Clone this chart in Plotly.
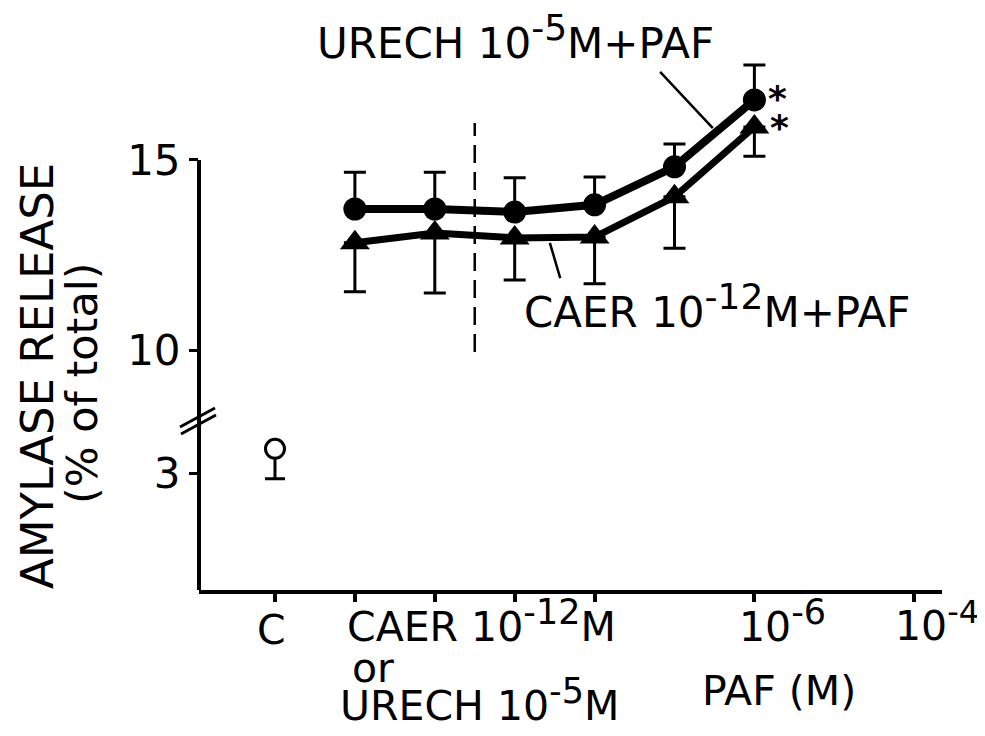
import plotly.graph_objects as go

# ---------------- data ----------------
x_slots = [1, 2, 3, 4, 5, 6]                 # CAER/URECH alone, then increasing PAF
urech_mean = [13.71, 13.71, 13.63, 13.82, 14.82, 16.58]
urech_sem = [0.97, 0.97, 0.90, 0.73, 0.60, 0.92]
caer_mean = [12.82, 13.08, 12.95, 12.97, 14.03, 15.87]
caer_sem = [1.29, 1.58, 1.11, 1.23, 1.35, 0.77]
control_x = [0]
control_mean = [3.62]
control_sem = [0.77]
x_tick_slots = [0, 1, 2, 3, 4, 6, 8]
upper_ticks = [10, 15]
lower_ticks = [3]

# ---------------- geometry (pixels of the 985x736 page) ----------------
PAGE_W, PAGE_H = 985, 736
OFF = 8                       # default body margin of the html page
W, H = PAGE_W - OFF, PAGE_H - OFF
L, R, T, B = 199, 942, 30, 590
BREAK_PX = 417
upper_range = [8.237, 18.42]
lower_range = [0, 4.436]
x_range = [-0.951, 8.348]
FONT = "DejaVu Sans"


def PX(x):
    return (x - L) / (R - L)


def PY(y):
    return (B - y) / (B - T)


lower_top = PY(BREAK_PX)

fig = go.Figure()

fig.add_trace(go.Scatter(
    x=x_slots, y=urech_mean, yaxis="y2", mode="lines+markers",
    line=dict(color="black", width=8),
    marker=dict(symbol="circle", size=23, color="black"),
    error_y=dict(type="data", symmetric=False, array=urech_sem,
                 arrayminus=[0] * len(urech_sem), color="black",
                 thickness=3, width=11),
    showlegend=False, name="URECH 10-5M + PAF"))

fig.add_trace(go.Scatter(
    x=x_slots, y=caer_mean, yaxis="y2", mode="lines+markers",
    line=dict(color="black", width=7),
    marker=dict(symbol="triangle-up", size=26, color="black"),
    error_y=dict(type="data", symmetric=False, array=[0] * len(caer_sem),
                 arrayminus=caer_sem, color="black", thickness=3, width=11),
    showlegend=False, name="CAER 10-12M + PAF"))

fig.add_trace(go.Scatter(
    x=control_x, y=control_mean, yaxis="y", mode="markers",
    marker=dict(symbol="circle", size=19, color="white",
                line=dict(color="black", width=3)),
    error_y=dict(type="data", symmetric=False, array=[0],
                 arrayminus=control_sem, color="black", thickness=3, width=10),
    showlegend=False, name="Control"))

tickfont = dict(family=FONT, size=42, color="black")
fig.update_layout(
    width=W, height=H,
    margin=dict(l=L - OFF, r=PAGE_W - R, t=T - OFF, b=PAGE_H - B, pad=0),
    paper_bgcolor="white", plot_bgcolor="white",
    xaxis=dict(domain=[0, 1], range=x_range, showline=True, linewidth=4,
               linecolor="black", ticks="outside", tickvals=x_tick_slots,
               ticklen=8, tickwidth=4, tickcolor="black",
               showticklabels=False, showgrid=False, zeroline=False,
               anchor="y", automargin=False),
    yaxis=dict(domain=[0, lower_top], range=lower_range, showline=False,
               ticks="outside", tickvals=lower_ticks, ticklen=9, tickwidth=3,
               tickcolor="black", tickfont=tickfont, showgrid=False,
               zeroline=False, anchor="x", automargin=False),
    yaxis2=dict(domain=[lower_top, 1], range=upper_range, showline=False,
                ticks="outside", tickvals=upper_ticks, ticklen=9, tickwidth=3,
                tickcolor="black", tickfont=tickfont, showgrid=False,
                zeroline=False, anchor="x", automargin=False),
)

shapes = []
# y axis line (lower and upper parts)
shapes.append(dict(type="line", xref="paper", yref="y domain", x0=0, x1=0,
                   y0=0, y1=1, line=dict(color="black", width=4)))
shapes.append(dict(type="line", xref="paper", yref="y2", x0=0, x1=0,
                   y0=upper_range[0], y1=upper_ticks[-1],
                   line=dict(color="black", width=4)))
# axis break marks
for (x0, y0, x1, y1) in [(180, 427, 215, 408), (181, 434, 216, 415)]:
    shapes.append(dict(type="line", xref="paper", yref="paper",
                       x0=PX(x0), y0=PY(y0), x1=PX(x1), y1=PY(y1),
                       line=dict(color="black", width=3)))
# dashed separator between pretreatment and PAF doses
shapes.append(dict(type="line", xref="x", yref="y2", x0=2.5, x1=2.5,
                   y0=9.95, y1=15.97,
                   line=dict(color="black", width=2.5, dash="18px,9px")))
# leader lines for the series labels
shapes.append(dict(type="line", xref="x", yref="y2", x0=4.82, y0=17.32,
                   x1=5.48, y1=15.84, line=dict(color="black", width=2.5)))
shapes.append(dict(type="line", xref="x", yref="y2", x0=3.44, y0=12.82,
                   x1=3.57, y1=11.89, line=dict(color="black", width=2.5)))

ann = []


def text(t, x, y, size, xanchor="left", yanchor="middle", angle=0,
         family=FONT):
    ann.append(dict(text=t, x=PX(x), y=PY(y), xref="paper", yref="paper",
                    xanchor=xanchor, yanchor=yanchor, showarrow=False,
                    textangle=angle,
                    font=dict(family=family, size=size, color="black")))


def sup(s, size):
    return '<sup><span style="font-size:%dpx">%s</span></sup>' % (size, s)


text("URECH 10" + sup("-5", 36) + "M+PAF", 315, 38, 42)
text("CAER 10" + sup("-12", 36) + "M+PAF", 522, 306, 42)
text("<b>*</b>", 766, 98, 36)
text("<b>*</b>", 768, 127, 36)
text("C", 271, 630, 41, xanchor="center")
text("CAER 10" + sup("-12", 35) + "M", 345, 621, 41)
text("or", 373, 668, 41, xanchor="center")
text("URECH 10" + sup("-5", 35) + "M", 338, 700, 41)
text("10" + sup("-6", 35), 737, 621, 41)
text("10" + sup("-4", 32), 893, 621, 41)
text("PAF (M)", 700, 691, 41)
text("AMYLASE RELEASE", 37, 376, 45, xanchor="center", angle=-90)
text("(% of total)", 82, 383, 43, xanchor="center", angle=-90)

fig.update_layout(shapes=shapes, annotations=ann)

fig.write_html("out.html")
